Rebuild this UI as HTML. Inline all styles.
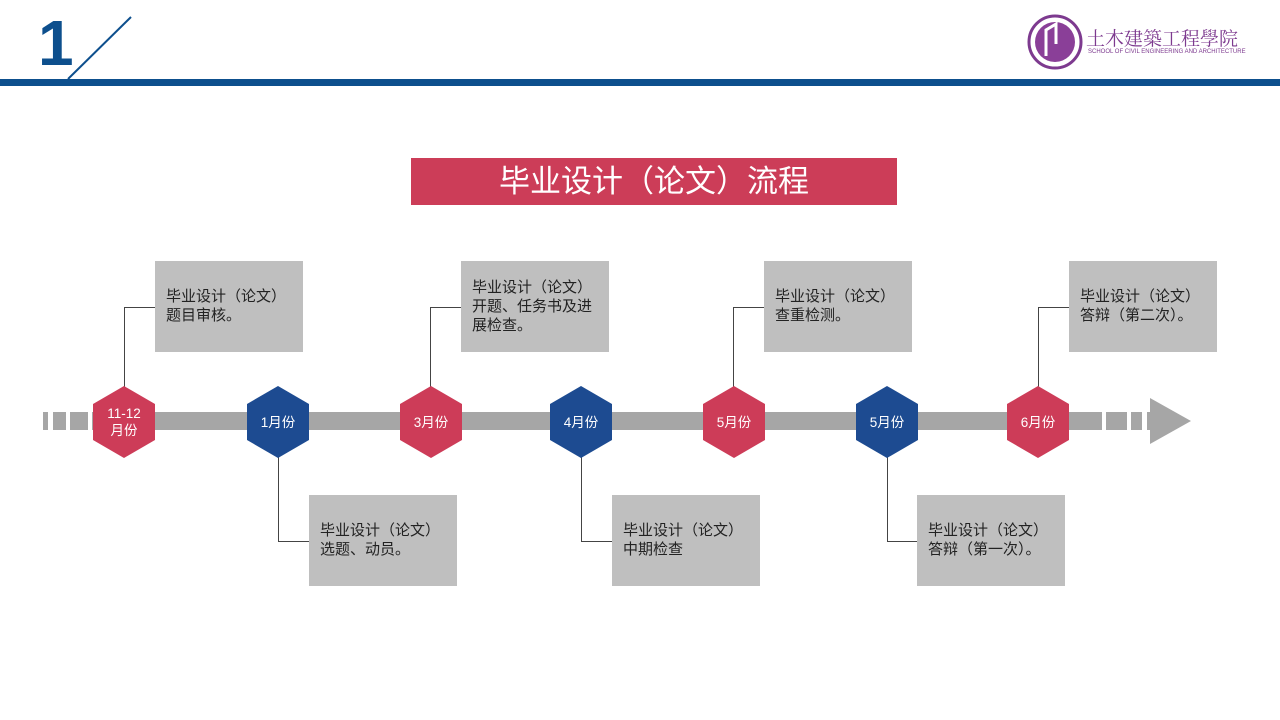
<!DOCTYPE html>
<html><head><meta charset="utf-8"><style>
body{margin:0;width:1280px;height:720px;background:#fff;position:relative;overflow:hidden;font-family:"Liberation Sans","Noto Sans CJK SC",sans-serif}
.a{position:absolute}
.box{position:absolute;background:#bfbfbf;width:148px;height:91px;box-sizing:border-box;padding:26px 0 0 11px;font-size:15px;line-height:19px;color:#222}
.hx{position:absolute;width:62px;height:72px;clip-path:polygon(50% 0,100% 25%,100% 75%,50% 100%,0 75%,0 25%);color:#fff;font-size:13.5px;display:flex;align-items:center;justify-content:center;text-align:center;line-height:17px}
.r{background:#cd3c58}.b{background:#1d4b91}
.ln{position:absolute;background:#444}
</style></head><body>
<div class="a" style="left:38px;top:8px;font-size:64px;font-weight:bold;color:#0d4f8d;line-height:70px">1</div>
<svg class="a" style="left:0;top:0" width="1280" height="100"><line x1="131" y1="17" x2="68" y2="79" stroke="#0d4f8d" stroke-width="2"/>
<circle cx="1055" cy="42" r="26" fill="#fff" stroke="#7d3a8f" stroke-width="3"/><circle cx="1055" cy="42" r="20" fill="#8a3f98"/><path d="M1046 56 V30 l10 -6 v20" stroke="#fff" stroke-width="3" fill="none"/></svg>
<div class="a" style="left:1086px;top:24px;font-size:19px;color:#7d3a8f;font-family:'Noto Serif CJK SC',serif">土木建築工程學院</div>
<div class="a" style="left:1088px;top:49px;font-size:6px;color:#7d3a8f">SCHOOL OF CIVIL ENGINEERING AND ARCHITECTURE</div>
<div class="a" style="left:0;top:79px;width:1280px;height:7px;background:#0d4f8d"></div>
<div class="a" style="left:411px;top:158px;width:486px;height:47px;background:#cc3d58;color:#fff;font-size:31px;line-height:47px;text-align:center">毕业设计（论文）流程</div>
<div class="a" style="left:43px;top:412px;width:5px;height:18px;background:#a6a6a6"></div>
<div class="a" style="left:53px;top:412px;width:13px;height:18px;background:#a6a6a6"></div>
<div class="a" style="left:70px;top:412px;width:18px;height:18px;background:#a6a6a6"></div>
<div class="a" style="left:92px;top:412px;width:1010px;height:18px;background:#a6a6a6"></div>
<div class="a" style="left:1106px;top:412px;width:21px;height:18px;background:#a6a6a6"></div>
<div class="a" style="left:1131px;top:412px;width:11px;height:18px;background:#a6a6a6"></div>
<div class="a" style="left:1147px;top:412px;width:4px;height:18px;background:#a6a6a6"></div>
<svg class="a" style="left:1150px;top:398px" width="42" height="46"><polygon points="0,0 41,23 0,46" fill="#a6a6a6"/></svg>
<div class="ln" style="left:124px;top:307px;width:1px;height:80px"></div><div class="ln" style="left:124px;top:307px;width:31px;height:1px"></div>
<div class="ln" style="left:430px;top:307px;width:1px;height:80px"></div><div class="ln" style="left:430px;top:307px;width:31px;height:1px"></div>
<div class="ln" style="left:733px;top:307px;width:1px;height:80px"></div><div class="ln" style="left:733px;top:307px;width:31px;height:1px"></div>
<div class="ln" style="left:1038px;top:307px;width:1px;height:80px"></div><div class="ln" style="left:1038px;top:307px;width:31px;height:1px"></div>
<div class="ln" style="left:278px;top:456px;width:1px;height:86px"></div><div class="ln" style="left:278px;top:541px;width:31px;height:1px"></div>
<div class="ln" style="left:581px;top:456px;width:1px;height:86px"></div><div class="ln" style="left:581px;top:541px;width:31px;height:1px"></div>
<div class="ln" style="left:887px;top:456px;width:1px;height:86px"></div><div class="ln" style="left:887px;top:541px;width:31px;height:1px"></div>
<div class="hx r" style="left:93px;top:386px">11-12<br>月份</div>
<div class="hx b" style="left:247px;top:386px">1月份</div>
<div class="hx r" style="left:400px;top:386px">3月份</div>
<div class="hx b" style="left:550px;top:386px">4月份</div>
<div class="hx r" style="left:703px;top:386px">5月份</div>
<div class="hx b" style="left:856px;top:386px">5月份</div>
<div class="hx r" style="left:1007px;top:386px">6月份</div>
<div class="box" style="left:155px;top:261px">毕业设计（论文）<br>题目审核。</div>
<div class="box" style="left:461px;top:261px;padding-top:17px">毕业设计（论文）<br>开题、任务书及进<br>展检查。</div>
<div class="box" style="left:764px;top:261px">毕业设计（论文）<br>查重检测。</div>
<div class="box" style="left:1069px;top:261px">毕业设计（论文）<br>答辩（第二次）。</div>
<div class="box" style="left:309px;top:495px">毕业设计（论文）<br>选题、动员。</div>
<div class="box" style="left:612px;top:495px">毕业设计（论文）<br>中期检查</div>
<div class="box" style="left:917px;top:495px">毕业设计（论文）<br>答辩（第一次）。</div>
</body></html>
